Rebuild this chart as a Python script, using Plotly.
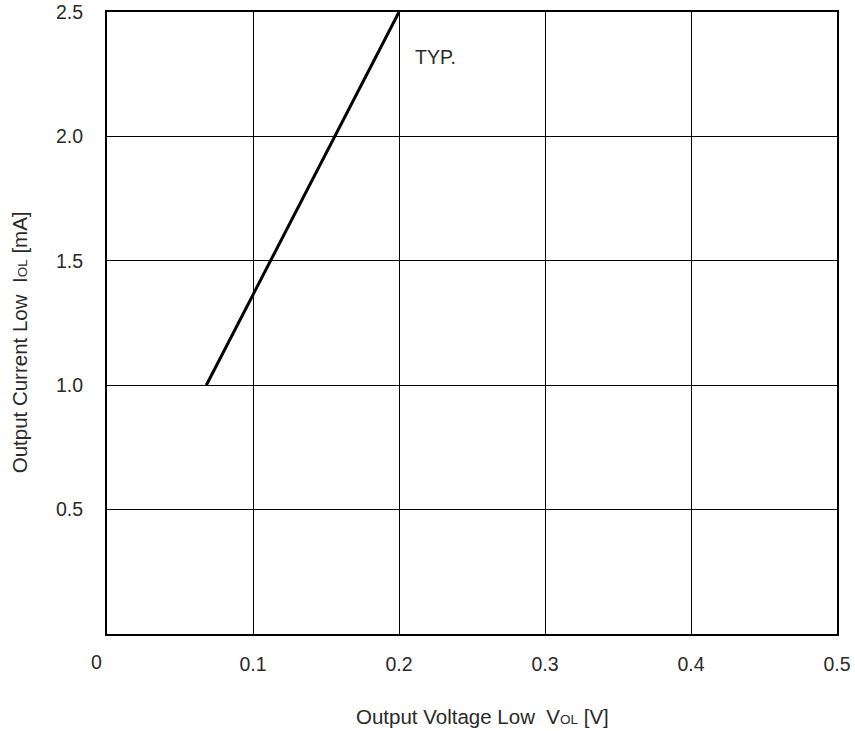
import plotly.graph_objects as go

# Data
vol = [0.068, 0.2]          # Output Voltage Low [V]
iol = [1.0, 2.5]            # Output Current Low [mA]
x_ticks = [0.1, 0.2, 0.3, 0.4, 0.5]
x_ticklabels = ["0.1", "0.2", "0.3", "0.4", "0.5"]
y_ticks = [0.5, 1.0, 1.5, 2.0, 2.5]
y_ticklabels = ["0.5", "1.0", "1.5", "2.0", "2.5"]

fig = go.Figure()
fig.add_trace(go.Scatter(x=vol, y=iol, mode="lines",
                         line=dict(color="black", width=3),
                         showlegend=False, hoverinfo="skip"))

FONT = "Liberation Sans, Arial, Helvetica, sans-serif"
tick_font = dict(family=FONT, size=19.5, color="#2a2a2a")
title_font = dict(family=FONT, size=20.5, color="#2a2a2a")

fig.update_layout(
    width=855, height=731,
    margin=dict(l=107, r=18, t=12, b=97),
    paper_bgcolor="white", plot_bgcolor="white",
    xaxis=dict(range=[0, 0.5], tickvals=x_ticks, ticktext=x_ticklabels,
               automargin=False, ticklabeloverflow="allow",
               showgrid=True, gridcolor="black", gridwidth=1,
               showline=True, linecolor="black", linewidth=2, mirror=True,
               zeroline=False, ticks="", ticklabelstandoff=12,
               tickfont=tick_font),
    yaxis=dict(range=[0, 2.5], tickvals=y_ticks, ticktext=y_ticklabels,
               automargin=False, ticklabeloverflow="allow",
               showgrid=True, gridcolor="black", gridwidth=1,
               showline=True, linecolor="black", linewidth=2, mirror=True,
               zeroline=False, ticks="", ticklabelstandoff=18,
               tickfont=tick_font),
    annotations=[
        dict(x=0.514, y=-0.133, xref="paper", yref="paper",
             text="Output Voltage Low  V<span style='font-size:13.5px'>OL</span> [V]",
             showarrow=False, xanchor="center", yanchor="middle", font=title_font),
        dict(x=-0.1205, y=0.469, xref="paper", yref="paper", textangle=-90,
             text="Output Current Low  I<span style='font-size:13.5px'>OL</span> [mA]",
             showarrow=False, xanchor="center", yanchor="middle", font=title_font),
        dict(x=0.2096, y=2.321, xref="x", yref="y", text="TYP.", showarrow=False,
             xanchor="left", yanchor="middle", font=tick_font),
        dict(x=0, y=0, xref="x", yref="y", text="0", showarrow=False,
             xanchor="center", yanchor="middle", xshift=-11, yshift=-28,
             font=tick_font),
    ],
)

fig.write_html("out.html", config={"displayModeBar": False},
               post_script="document.body.style.margin='0';")
